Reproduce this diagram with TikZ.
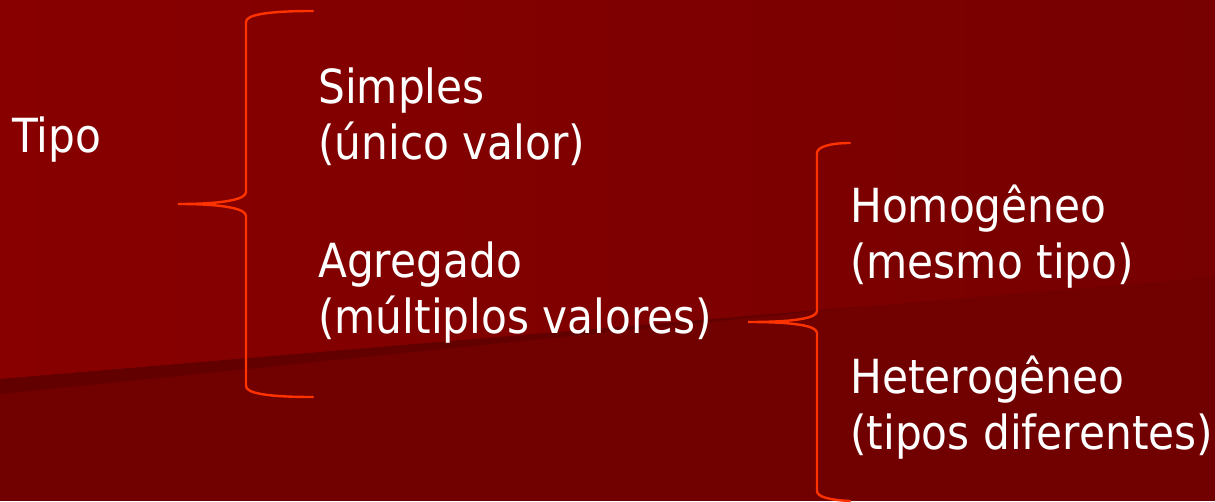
\documentclass[tikz,border=0pt]{standalone}
\usepackage{fontspec}
\setmainfont{DejaVu Sans}[FakeStretch=0.9]
\definecolor{bgtopl}{HTML}{880000}
\definecolor{bgtopr}{HTML}{770000}
\definecolor{bglow}{HTML}{710000}
\definecolor{bgband}{HTML}{620000}
\definecolor{bracec}{HTML}{FF3300}
\tikzset{
  lbl/.style={anchor=base west, inner sep=0pt, text=white, font=\fontsize{47}{56}\selectfont},
  bracestyle/.style={draw=bracec, line width=2.4pt, line cap=round}
}
\begin{document}
\begin{tikzpicture}[x=1pt,y=-1pt]
\useasboundingbox (0,0) rectangle (1215,501);
% background
\fill[bglow] (0,0) rectangle (1215,501);
\shade[left color=bgtopl, right color=bgtopr] (0,0) -- (1215,0) -- (1215,277) -- (0,379) -- cycle;
\fill[bgband] (0,379) -- (867,306) -- (0,394) -- cycle;

% texts
\node[lbl] (tipo) at (12,152) {Tipo};
\node[lbl] (simples) at (318,103) {Simples};
\node[lbl] (unico) at (318,159) {(único valor)};
\node[lbl] (agregado) at (318,277) {Agregado};
\node[lbl] (multiplos) at (318,333) {(múltiplos valores)};
\node[lbl] (homog) at (850,222) {Homogêneo};
\node[lbl] (mesmo) at (850,278) {(mesmo tipo)};
\node[lbl] (heterog) at (850,393) {Heterogêneo};
\node[lbl] (tiposdif) at (850,449) {(tipos diferentes)};

% brace 1
\coordinate (b1top) at (313,11);
\coordinate (b1tip) at (178,204);
\coordinate (b1bot) at (313,397);
\draw[bracestyle] (b1top) .. controls (266,11) and (246,15) .. (246,22)
  -- (246,192) .. controls (246,199) and (226,204) .. (b1tip)
  .. controls (226,204) and (246,209) .. (246,216)
  -- (246,386) .. controls (246,393) and (266,397) .. (b1bot);

% brace 2
\coordinate (b2top) at (850,143);
\coordinate (b2tip) at (748,322);
\coordinate (b2bot) at (850,501);
\draw[bracestyle] (b2top) .. controls (830,143) and (817,147) .. (817,153)
  -- (817,311) .. controls (817,318) and (796,322) .. (b2tip)
  .. controls (796,322) and (817,326) .. (817,333)
  -- (817,491) .. controls (817,497) and (830,500) .. (b2bot);
\end{tikzpicture}
\end{document}
